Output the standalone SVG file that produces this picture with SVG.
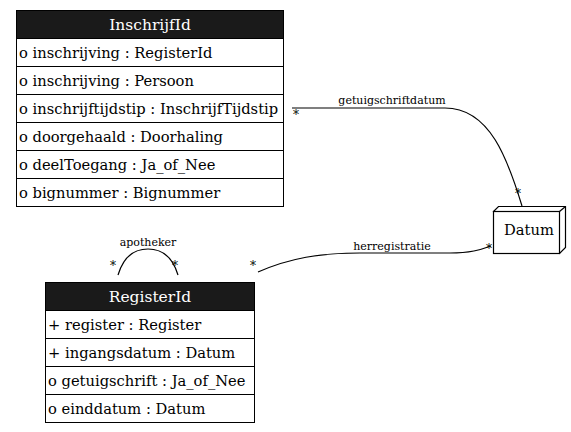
<svg xmlns="http://www.w3.org/2000/svg" width="571" height="432" viewBox="0 0 571 432">
<style>
text{font-family:'DejaVu Serif',serif;font-size:14.7px;fill:#000}
.hdr{fill:#1a1a1a;stroke:#000}
.hdrt{fill:#fff;text-anchor:middle;font-size:15.5px}
.row{fill:#fff;stroke:#000}
.edge{fill:none;stroke:#000;stroke-width:1.2}
.lbl{font-size:11px;text-anchor:middle}
.m{font-size:12px;fill:#000}
</style>
<rect width="571" height="432" fill="#fff"/>
<g id="InschrijfId">
<rect class="hdr" x="16.5" y="10.5" width="267" height="28"/>
<text class="hdrt" x="150" y="30">InschrijfId</text>
<rect class="row" x="16.5" y="38.5" width="267" height="28"/>
<text x="19" y="58">o inschrijving : RegisterId</text>
<rect class="row" x="16.5" y="66.5" width="267" height="28"/>
<text x="19" y="86">o inschrijving : Persoon</text>
<rect class="row" x="16.5" y="94.5" width="267" height="28"/>
<text x="19" y="114">o inschrijftijdstip : InschrijfTijdstip</text>
<rect class="row" x="16.5" y="122.5" width="267" height="28"/>
<text x="19" y="142">o doorgehaald : Doorhaling</text>
<rect class="row" x="16.5" y="150.5" width="267" height="28"/>
<text x="19" y="170">o deelToegang : Ja_of_Nee</text>
<rect class="row" x="16.5" y="178.5" width="267" height="28"/>
<text x="19" y="198">o bignummer : Bignummer</text>
</g>
<g id="RegisterId">
<rect class="hdr" x="45.5" y="282.5" width="209" height="28"/>
<text class="hdrt" x="150" y="302">RegisterId</text>
<rect class="row" x="45.5" y="310.5" width="209" height="28"/>
<text x="48" y="330">+ register : Register</text>
<rect class="row" x="45.5" y="338.5" width="209" height="28"/>
<text x="48" y="358">+ ingangsdatum : Datum</text>
<rect class="row" x="45.5" y="366.5" width="209" height="28"/>
<text x="48" y="386">o getuigschrift : Ja_of_Nee</text>
<rect class="row" x="45.5" y="394.5" width="209" height="28"/>
<text x="48" y="414">o einddatum : Datum</text>
</g>
<g id="Datum">
<path d="M493.5,211.5 L498.5,206.5 L565.5,206.5 L565.5,247.5 L559.5,253.5 Z" fill="#fff" stroke="#000" stroke-width="1.2"/>
<rect x="493.5" y="211.5" width="66" height="42" fill="#fff" stroke="#000" stroke-width="1.2"/>
<path d="M559.5,211.5 L565.5,206.5" fill="none" stroke="#000" stroke-width="1.2"/>
<text x="529" y="235" text-anchor="middle" font-size="16">Datum</text>
</g>
<g id="connectors">
<path class="edge" d="M292,108 L445,108 C490,108 508,160 522,206"/>
<text class="lbl" x="392" y="104">getuigschriftdatum</text>
<text class="m" x="293" y="119">*</text>
<text class="m" x="515" y="198">*</text>
<path class="edge" d="M258,272 C290,258 320,253 360,253 L450,253 C470,253 480,250 491,246"/>
<text class="lbl" x="392" y="250">herregistratie</text>
<text class="m" x="250" y="270">*</text>
<text class="m" x="486" y="253">*</text>
<path class="edge" d="M118,275 C124,255 136,249 148,249 C160,249 172,255 178,275"/>
<text class="lbl" x="148" y="246">apotheker</text>
<text class="m" x="110" y="270">*</text>
<text class="m" x="172" y="270">*</text>
</g>
</svg>
